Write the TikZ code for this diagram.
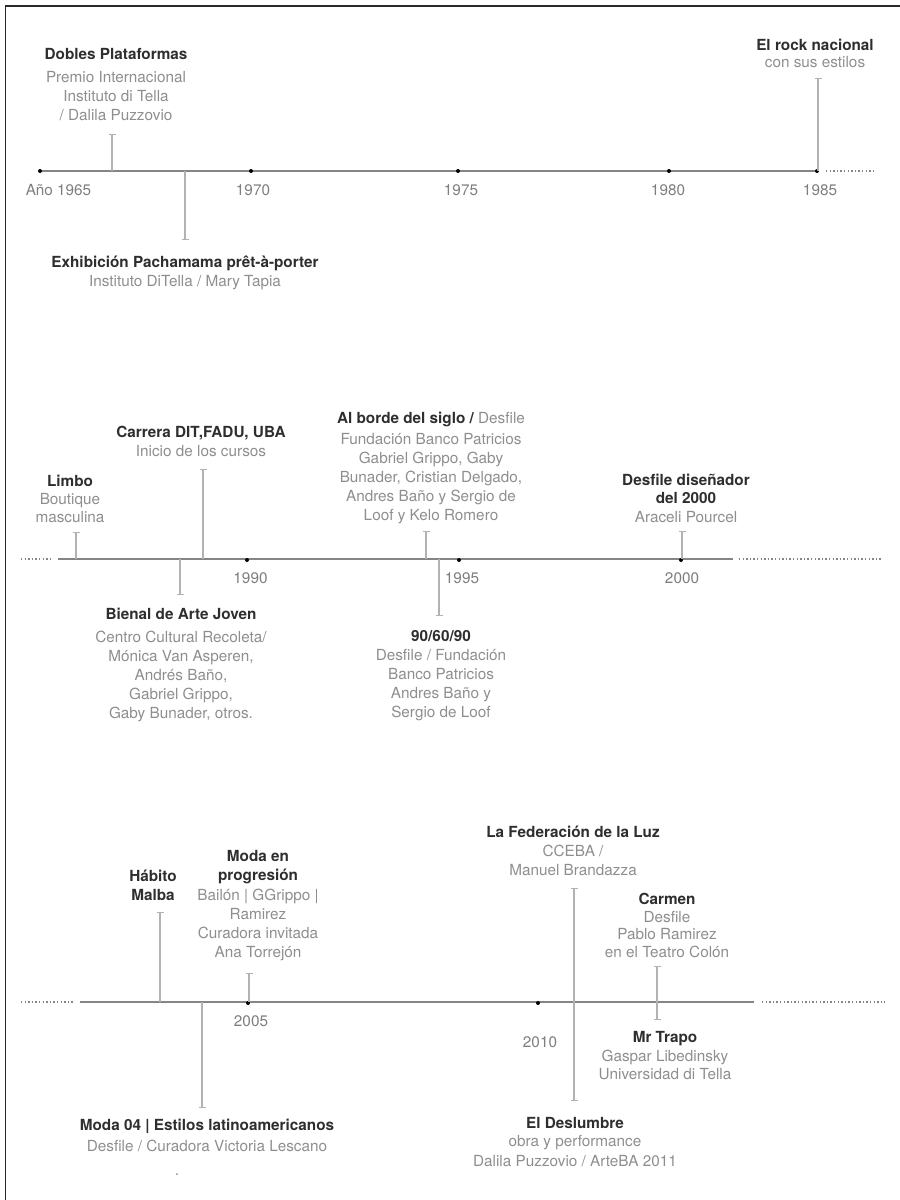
\documentclass[tikz,border=0pt]{standalone}
\usepackage{fontspec}
\setmainfont{TeX Gyre Heros}
\usetikzlibrary{arrows.meta}
\definecolor{ttlcol}{HTML}{2E2E2E}
\definecolor{txtgray}{HTML}{8E8E8E}
\definecolor{yrgray}{HTML}{7E7E7E}
\definecolor{axgray}{HTML}{858585}
\definecolor{stemgray}{HTML}{B2B2B2}
\definecolor{framecol}{HTML}{2A2A2A}
\newcommand\evfont{\fontsize{15.3}{19}\selectfont}
\newcommand\ttl[1]{{\bfseries\color{ttlcol}#1}}
\tikzset{
  ev/.style={align=center, inner sep=0pt, anchor=base, font=\evfont, text=txtgray},
  yr/.style={anchor=base, inner sep=0pt, font=\evfont, text=yrgray},
  axis/.style={draw=axgray, line width=2pt},
  dotline/.style={draw=axgray, line width=1.3pt, dash pattern=on 1.4pt off 2.2pt},
  stem/.style={draw=stemgray, line width=1.3pt},
  capend/.style={-{Bar[width=7pt,line width=1.3pt]}},
  captwo/.style={{Bar[width=7pt,line width=1.3pt]}-{Bar[width=7pt,line width=1.3pt]}},
  yrdot/.style={circle, fill=black, inner sep=0pt, minimum size=4pt},
  framel/.style={draw=framecol, line width=1.5pt}
}
\begin{document}
\begin{tikzpicture}[x=1pt,y=-1pt]
\useasboundingbox (0,0) rectangle (900,1200);
% frame
\coordinate (fa) at (5.5,1200);
\coordinate (fb) at (5.5,6);
\coordinate (fc) at (900,6);
\draw[framel] (fa) -- (fb) -- (fc);

% ===== Timeline 1 =====
\coordinate (a1s) at (40,171);
\coordinate (a1e) at (818,171);
\coordinate (d1s) at (826,171);
\coordinate (d1e) at (876,171);
\draw[axis] (a1s) -- (a1e);
\draw[dotline] (d1s) -- (d1e);
\node[yrdot] (y1965) at (40,171) {};
\node[yrdot] (y1970) at (251,171) {};
\node[yrdot] (y1975) at (458,171) {};
\node[yrdot] (y1980) at (669,171) {};
\node[yrdot] (y1985) at (817,171) {};
\node[yr] (l1965) at (58.5,195.5) {Año 1965};
\node[yr] (l1970) at (253,195.5) {1970};
\node[yr] (l1975) at (461,195.5) {1975};
\node[yr] (l1980) at (668,195.5) {1980};
\node[yr] (l1985) at (820,195.5) {1985};

\coordinate (s1a) at (112,171); \coordinate (s1b) at (112,134);
\draw[stem,capend] (s1a) -- (s1b);
\node[ev] (dobles) at (116,120.5) {\ttl{Dobles Plataformas}\\[4pt]Premio Internacional\\Instituto di Tella\\/ Dalila Puzzovio};

\coordinate (s2a) at (185,171); \coordinate (s2b) at (185,240);
\draw[stem,capend] (s2a) -- (s2b);
\node[ev] (pacha) at (185,286.5) {\ttl{Exhibición Pachamama prêt-à-porter}\\Instituto DiTella / Mary Tapia};

\coordinate (s3a) at (818,171); \coordinate (s3b) at (818,78);
\draw[stem,capend] (s3a) -- (s3b);
\node[ev] (rock) at (815,67.5) {\ttl{El rock nacional}\\[-2pt]con sus estilos};

% ===== Timeline 2 =====
\coordinate (d2s) at (21,559); \coordinate (d2e) at (52,559);
\coordinate (a2s) at (58,559); \coordinate (a2e) at (733,559);
\coordinate (d3s) at (739,559); \coordinate (d3e) at (882,559);
\draw[dotline] (d2s) -- (d2e);
\draw[axis] (a2s) -- (a2e);
\draw[dotline] (d3s) -- (d3e);
\node[yrdot] (y1990) at (247,560) {};
\node[yrdot] (y1995) at (459,560) {};
\node[yrdot] (y2000) at (681,560) {};
\node[yr] (l1990) at (250.5,583.5) {1990};
\node[yr] (l1995) at (462,583.5) {1995};
\node[yr] (l2000) at (682,583.5) {2000};

\coordinate (s4a) at (76,559); \coordinate (s4b) at (76,532);
\draw[stem,capend] (s4a) -- (s4b);
\node[ev] (limbo) at (70,522.5) {\ttl{Limbo}\\[-1pt]Boutique\\[-1pt]masculina};

\coordinate (s5a) at (203,559); \coordinate (s5b) at (203,469);
\draw[stem,capend] (s5a) -- (s5b);
\node[ev] (carrera) at (201,456.5) {\ttl{Carrera DIT,FADU, UBA}\\Inicio de los cursos};

\coordinate (s6a) at (180,559); \coordinate (s6b) at (180,595);
\draw[stem,capend] (s6a) -- (s6b);
\node[ev] (bienal) at (181,718.5) {\ttl{Bienal de Arte Joven}\\[4pt]Centro Cultural Recoleta/\\Mónica Van Asperen,\\Andrés Baño,\\Gabriel Grippo,\\Gaby Bunader, otros.};

\coordinate (s7a) at (426,559); \coordinate (s7b) at (426,531);
\draw[stem,capend] (s7a) -- (s7b);
\node[ev] (borde) at (431,520.5) {\ttl{Al borde del siglo /} Desfile\\[2pt]Fundación Banco Patricios\\Gabriel Grippo, Gaby\\Bunader, Cristian Delgado,\\Andres Baño y Sergio de\\Loof y Kelo Romero};

\coordinate (s8a) at (439,559); \coordinate (s8b) at (439,616);
\draw[stem,capend] (s8a) -- (s8b);
\node[ev] (noventa) at (441,717.5) {\ttl{90/60/90}\\Desfile / Fundación\\Banco Patricios\\Andres Baño y\\Sergio de Loof};

\coordinate (s9a) at (682,559); \coordinate (s9b) at (682,531);
\draw[stem,capend] (s9a) -- (s9b);
\node[ev] (disen) at (686,522.5) {\ttl{Desfile diseñador}\\[-1pt]\ttl{del 2000}\\Araceli Pourcel};

% ===== Timeline 3 =====
\coordinate (d4s) at (21,1002); \coordinate (d4e) at (73,1002);
\coordinate (a3s) at (80,1002); \coordinate (a3e) at (754,1002);
\coordinate (d5s) at (762,1002); \coordinate (d5e) at (885,1002);
\draw[dotline] (d4s) -- (d4e);
\draw[axis] (a3s) -- (a3e);
\draw[dotline] (d5s) -- (d5e);
\node[yrdot] (y2005) at (248,1003) {};
\node[yrdot] (y2010) at (538,1003) {};
\node[yr] (l2005) at (251,1026.5) {2005};
\node[yr] (l2010) at (540,1047.5) {2010};

\coordinate (s10a) at (160,1002); \coordinate (s10b) at (160,912);
\draw[stem,capend] (s10a) -- (s10b);
\node[ev] (habito) at (153,900.5) {\ttl{Hábito}\\\ttl{Malba}};

\coordinate (s11a) at (249,1002); \coordinate (s11b) at (249,973);
\draw[stem,capend] (s11a) -- (s11b);
\node[ev] (progre) at (258,957.5) {\ttl{Moda en}\\\ttl{progresión}\\[1pt]Bailón | GGrippo |\\Ramirez\\Curadora invitada\\Ana Torrejón};

\coordinate (s12a) at (202,1002); \coordinate (s12b) at (202,1108);
\draw[stem,capend] (s12a) -- (s12b);
\node[ev] (moda04) at (207,1151.5) {\ttl{Moda 04 | Estilos latinoamericanos}\\[2pt]Desfile / Curadora Victoria Lescano};
\node[ev] (punto) at (177,1175) {.};

\coordinate (s13a) at (574,888); \coordinate (s13b) at (574,1101);
\draw[stem,captwo] (s13a) -- (s13b);
\node[ev] (feder) at (573,875.5) {\ttl{La Federación de la Luz}\\CCEBA /\\Manuel Brandazza};
\node[ev] (deslum) at (575,1166.5) {\ttl{El Deslumbre}\\[-1pt]obra y performance\\[1pt]Dalila Puzzovio / ArteBA 2011};

\coordinate (s14a) at (657,966); \coordinate (s14b) at (657,1020);
\draw[stem,captwo] (s14a) -- (s14b);
\node[ev] (carmen) at (667,957.5) {\ttl{Carmen}\\[-1pt]Desfile\\[-2pt]Pablo Ramirez\\[-1pt]en el Teatro Colón};
\node[ev] (trapo) at (665,1079.5) {\ttl{Mr Trapo}\\Gaspar Libedinsky\\[-1pt]Universidad di Tella};
\end{tikzpicture}
\end{document}
